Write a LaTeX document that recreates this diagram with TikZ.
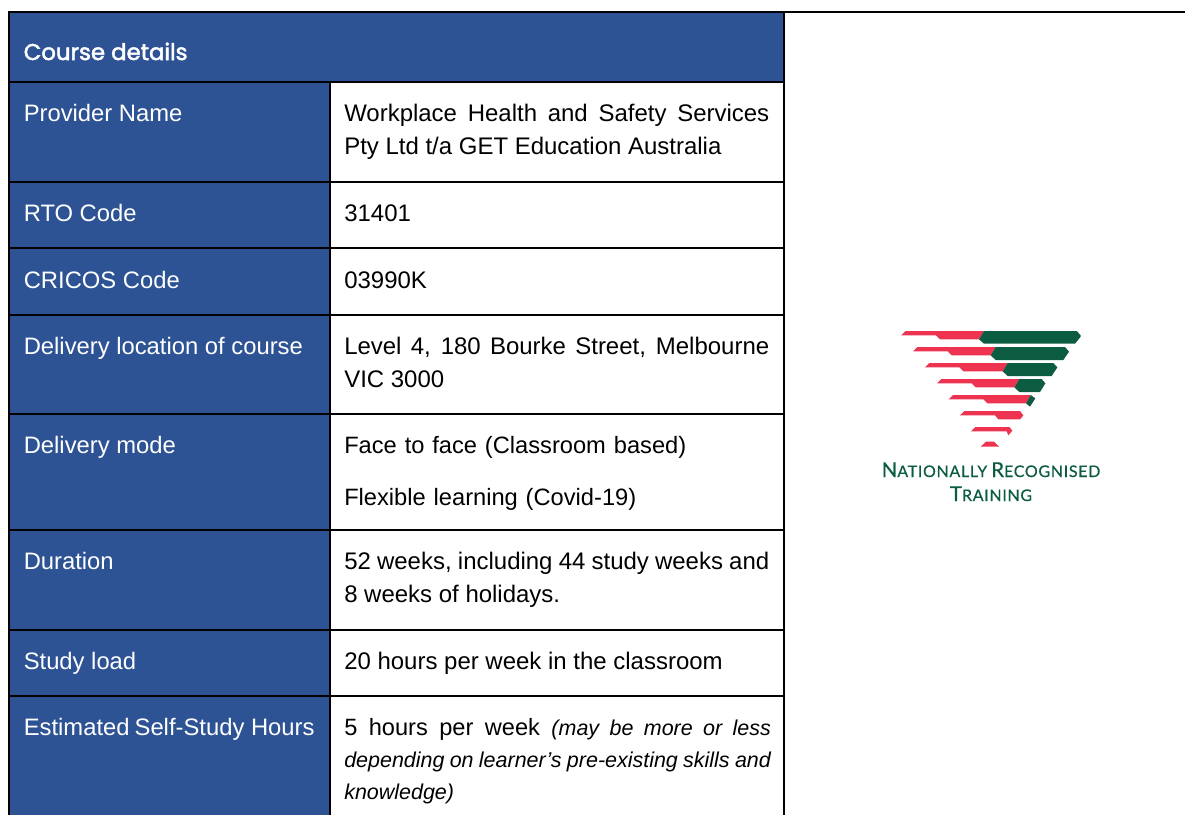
\documentclass[tikz,border=0pt]{standalone}
\usepackage{fontspec}
\setmainfont{Liberation Sans}
\newfontfamily\headfont[FakeBold=2.2]{Poppins}
\newfontfamily\logofont[LetterSpace=4.3,FakeBold=0.4]{Lato}
\definecolor{tblue}{HTML}{2D5395}
\definecolor{lred}{HTML}{EE3350}
\definecolor{lgreen}{HTML}{0B5C40}
\tikzset{
  gridline/.style={draw=black,line width=1.5pt},
  labeltext/.style={anchor=base west,inner sep=0pt,text=white,font=\fontsize{17.85}{24.75}\selectfont},
  valuetext/.style={anchor=base west,inner sep=0pt,text=black,text width=318.75pt,align=justify,font=\fontsize{17.98}{24.75}\selectfont},
  logotext/.style={anchor=base,inner sep=0pt,text=lgreen,font=\logofont},
}
\newcommand{\scap}[2]{{\fontsize{15.4}{15}\selectfont #1}{\fontsize{12}{15}\selectfont #2}}
\begin{document}
\begin{tikzpicture}[x=0.75pt,y=-0.75pt]
\useasboundingbox (0,0) rectangle (1185,815);
\fill[white] (0,0) rectangle (1185,815);
% blue areas
\fill[tblue] (9,12) rectangle (784,82);
\fill[tblue] (9,82) rectangle (330,815);
% grid
\draw[gridline] (8,12) -- (1185,12);
\draw[gridline] (9,12) -- (9,815);
\draw[gridline] (784,12) -- (784,815);
\draw[gridline] (330,82) -- (330,815);
\foreach \yy in {82,182,248,315,414,530,630,696}
  \draw[gridline] (9,\yy) -- (784,\yy);
% header
\node[anchor=base west,inner sep=0pt,text=white,font=\headfont\fontsize{17.1}{20}\selectfont] (head) at (23.5,60) {Course details};
% labels
\node[labeltext] (l1) at (23.5,121) {Provider Name};
\node[labeltext] (l2) at (23.5,221) {RTO Code};
\node[labeltext] (l3) at (23.5,288) {CRICOS Code};
\node[labeltext] (l4) at (23.5,354) {Delivery location of course};
\node[labeltext] (l5) at (23.5,453) {Delivery mode};
\node[labeltext] (l6) at (23.5,569) {Duration};
\node[labeltext] (l7) at (23.5,669) {Study load};
\node[labeltext] (l8) at (23.5,735) {Estimated\hspace{3.8pt}Self-Study Hours};
% values
\node[valuetext] (v1) at (344,121) {Workplace Health and Safety Services\linebreak Pty Ltd t/a GET Education Australia};
\node[valuetext] (v2) at (344,221) {31401};
\node[valuetext] (v3) at (344,288) {03990K};
\node[valuetext] (v4) at (344,354) {Level 4, 180 Bourke Street, Melbourne\linebreak VIC 3000};
\node[valuetext,align=left,font=\fontsize{17.75}{24.75}\selectfont] (v5) at (344,453) {Face to face (Classroom based)\\[14.25pt]Flexible learning (Covid-19)};
\node[valuetext] (v6) at (344,569) {52 weeks, including 44 study weeks and\linebreak 8 weeks of holidays.};
\node[valuetext] (v7) at (344,669) {20 hours per week in the classroom};
\node[valuetext,text width=320pt,font=\fontsize{17.7}{24}\selectfont] (v8) at (344,735) {5 hours per week {\fontsize{16.1}{23.4}\selectfont\itshape (may be more or less\linebreak depending on learner’s pre-existing skills and\linebreak knowledge)}};
% logo
\begin{scope}[shift={(860,310)},x=0.25pt,y=-0.25pt]
\fill[lred] (124,76)--(137,63)--(372,63)--(357,88)--(240,88)--(228,76)--cycle;
\fill[lgreen] (372,63)--(650,63)--(662,76)--(662,80)--(645,101)--(372,101)--(357,88)--cycle;
\fill[lred] (159,124)--(172,111)--(407,111)--(392,136)--(275,136)--(263,124)--cycle;
\fill[lgreen] (407,111)--(615,111)--(627,125)--(610,150)--(407,150)--(392,136)--cycle;
\fill[lred] (195,172)--(208,159)--(443,159)--(428,184)--(310,184)--(298,172)--cycle;
\fill[lgreen] (443,159)--(580,159)--(592,172)--(575,198)--(443,198)--(428,184)--cycle;
\fill[lred] (231,220)--(244,207)--(478,207)--(463,232)--(347,232)--(335,220)--cycle;
\fill[lgreen] (478,207)--(545,207)--(556,220)--(540,246)--(478,246)--(463,232)--cycle;
\fill[lred] (266,268)--(279,255)--(512,255)--(498,280)--(382,280)--(370,268)--cycle;
\fill[lgreen] (512,255)--(526,265)--(510,290)--(498,280)--cycle;
\fill[lred] (300,316)--(313,303)--(480,303)--(490,316)--(480,328)--(415,328)--(405,316)--cycle;
\fill[lred] (333,364)--(346,351)--(448,351)--(457,362)--(445,376)--(440,364)--cycle;
\fill[lred] (362,410)--(378,395)--(402,395)--(417,410)--cycle;
\end{scope}
\node[logotext] (t1) at (991,477) {\scap{N}{ATIONALLY} \scap{R}{ECOGNISED}};
\node[logotext] (t2) at (991,501) {\scap{T}{RAINING}};
\end{tikzpicture}
\end{document}
